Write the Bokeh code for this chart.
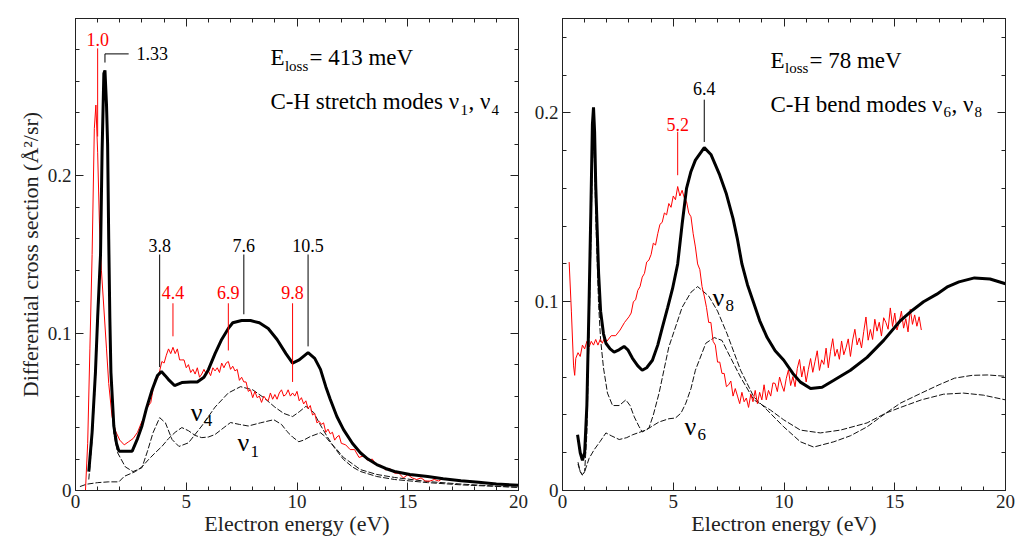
import numpy as np
from bokeh.plotting import figure
from bokeh.layouts import row
from bokeh.models import Range1d, FixedTicker, LinearAxis, Label, CustomJSTickFormatter
from bokeh.embed import file_html
from bokeh.resources import INLINE

SERIF = "'Liberation Serif', 'Times New Roman', 'DejaVu Serif', serif"
RED = "#ff0000"
INK = "#222222"

# ---------------- Left panel: E_loss = 413 meV (C-H stretch) ----------------
left_exp_x = [0.45, 0.55, 0.65, 0.75, 0.85, 0.92, 1.0, 1.08, 1.17, 1.28, 1.4, 1.5, 1.65, 1.8,
              2.0, 2.2, 2.4, 2.6, 2.8,
              3.0, 3.1, 3.2, 3.3, 3.4, 3.5, 3.6, 3.7, 3.8, 3.9, 4.0, 4.1, 4.2, 4.3, 4.4, 4.5,
              4.6, 4.7, 4.8, 4.9, 5.0, 5.1, 5.2, 5.3, 5.4, 5.5, 5.6, 5.7, 5.8, 5.9, 6.0, 6.1,
              6.2, 6.3, 6.4, 6.5, 6.6, 6.7, 6.8, 6.9, 7.0, 7.1, 7.2, 7.3, 7.4, 7.5, 7.6, 7.7,
              7.8, 7.9, 8.0, 8.1, 8.2, 8.3, 8.4, 8.5, 8.6, 8.7, 8.8, 8.9, 9.0, 9.1, 9.2, 9.3,
              9.4, 9.5, 9.6, 9.7, 9.8, 9.9, 10.0, 10.1, 10.2, 10.3, 10.4, 10.5, 10.6, 10.7,
              10.8, 10.9, 11.0, 11.1, 11.2, 11.3, 11.4, 11.5, 11.6, 11.7, 11.8, 11.9, 12.0,
              12.2, 12.4, 12.6, 12.8, 13.0, 13.2, 13.4, 13.6, 13.8, 14.0, 14.2, 14.4, 14.6,
              14.8, 15.0, 15.2, 15.4, 15.6, 15.8, 16.0, 16.2, 16.4, 16.5]
left_exp_y = [0.0, 0.03, 0.09, 0.15, 0.23, 0.245, 0.215, 0.17, 0.14, 0.116, 0.09, 0.068, 0.047,
              0.038, 0.032, 0.029, 0.031, 0.033, 0.037,
              0.044, 0.046, 0.052, 0.054, 0.056, 0.064, 0.071, 0.071, 0.076, 0.082, 0.081,
              0.086, 0.090, 0.087, 0.091, 0.087, 0.090, 0.083, 0.083, 0.083, 0.078, 0.080,
              0.075, 0.077, 0.074, 0.078, 0.072, 0.074, 0.077, 0.074, 0.076, 0.073, 0.078,
              0.076, 0.078, 0.075, 0.081, 0.078, 0.081, 0.082, 0.077, 0.079, 0.076, 0.077,
              0.070, 0.072, 0.069, 0.069, 0.063, 0.064, 0.059, 0.063, 0.059, 0.060, 0.056,
              0.060, 0.058, 0.057, 0.062, 0.058, 0.061, 0.058, 0.062, 0.064, 0.060, 0.061,
              0.064, 0.060, 0.062, 0.060, 0.063, 0.057, 0.059, 0.055, 0.057, 0.052, 0.054,
              0.048, 0.049, 0.043, 0.044, 0.042, 0.043, 0.037, 0.039, 0.036, 0.037, 0.032,
              0.034, 0.035, 0.030,
              0.029, 0.026, 0.026, 0.021, 0.022, 0.019, 0.020, 0.016, 0.016, 0.013, 0.014,
              0.011, 0.011, 0.008, 0.010, 0.008, 0.007, 0.008, 0.006, 0.006, 0.007, 0.006,
              0.007]

left_tot_x = [0.6, 0.75, 0.9, 1.0, 1.13, 1.2, 1.28, 1.33, 1.4, 1.45, 1.5, 1.55, 1.6, 1.73, 1.85,
              1.96, 2.2, 2.56, 2.8, 3.0, 3.2, 3.46, 3.7, 3.88, 4.05, 4.2, 4.47, 4.8, 5.2, 5.5,
              5.8, 6.0, 6.3, 6.6, 6.9, 7.1, 7.5, 7.9, 8.3, 8.7, 9.1, 9.5, 9.8, 10.1, 10.5, 10.8,
              11.06, 11.3, 11.5, 11.8, 12.1, 12.5, 12.86, 13.2, 13.6, 14.0, 14.4, 15.1, 15.9,
              16.6, 17.4, 18.2, 19.0, 20.0]
left_tot_y = [0.012, 0.037, 0.075, 0.11, 0.15, 0.215, 0.265, 0.267, 0.245, 0.22, 0.16, 0.11,
              0.075, 0.041, 0.03, 0.025, 0.025, 0.025, 0.033, 0.041, 0.052, 0.064, 0.073, 0.0756,
              0.073, 0.0705, 0.0667, 0.0686, 0.069, 0.069, 0.072, 0.0768, 0.087, 0.096, 0.103,
              0.1066, 0.108, 0.108, 0.1066, 0.103, 0.096, 0.087, 0.081, 0.083, 0.0876, 0.084,
              0.077, 0.066, 0.058, 0.047, 0.0387, 0.03, 0.024, 0.02, 0.0165, 0.014, 0.0121,
              0.0102, 0.0089, 0.0075, 0.0062, 0.0052, 0.0042, 0.0033]

left_v4_x = [0.6, 0.75, 0.9, 1.0, 1.13, 1.2, 1.28, 1.33, 1.4, 1.45, 1.5, 1.55, 1.6, 1.73, 1.9,
             2.25, 2.6, 3.0, 3.25, 3.5, 3.8, 4.06, 4.36, 4.67, 5.1, 5.7, 6.3, 6.9, 7.45, 8.0,
             8.5, 9.0, 9.4, 9.8, 10.1, 10.4, 10.76, 11.0, 11.36, 11.7, 12.1, 12.5, 12.86, 13.6,
             14.4, 15.9, 17.5, 20.0]
left_v4_y = [0.007, 0.032, 0.07, 0.105, 0.145, 0.21, 0.26, 0.262, 0.24, 0.215, 0.155, 0.105,
             0.07, 0.036, 0.024, 0.015, 0.012, 0.0145, 0.025, 0.0367, 0.0463, 0.043, 0.0324,
             0.028, 0.0303, 0.041, 0.053, 0.062, 0.066, 0.064, 0.059, 0.053, 0.049, 0.047, 0.05,
             0.0535, 0.0495, 0.043, 0.0343, 0.027, 0.0197, 0.015, 0.0121, 0.0089, 0.007, 0.005,
             0.0035, 0.002]

left_v1_x = [0.2, 0.5, 1.0, 1.5, 1.96, 2.2, 2.7, 3.0, 3.3, 3.6, 3.9, 4.2, 4.5, 4.8, 5.1, 5.4,
             5.7, 6.0, 6.3, 6.7, 7.0, 7.4, 7.8, 8.35, 8.95, 9.3, 9.55, 9.8, 10.08, 10.3, 10.6,
             11.06, 11.3, 11.5, 11.8, 12.1, 12.5, 12.86, 13.6, 14.4, 15.9, 17.5, 20.0]
left_v1_y = [0.0025, 0.004, 0.005, 0.0055, 0.0055, 0.009, 0.012, 0.015, 0.0197, 0.024, 0.028,
             0.033, 0.037, 0.04, 0.038, 0.035, 0.0336, 0.034, 0.0356, 0.04, 0.0432, 0.042,
             0.041, 0.043, 0.045, 0.042, 0.0375, 0.034, 0.031, 0.032, 0.0343, 0.0367, 0.034,
             0.0305, 0.026, 0.021, 0.017, 0.0133, 0.0102, 0.0083, 0.0057, 0.004, 0.002]

left_black_peaks = [3.8, 7.6, 10.5]
left_red_peaks = [4.4, 6.9, 9.8]
left_red_first_peak = 1.0
left_black_first_peak = 1.33

# ---------------- Right panel: E_loss = 78 meV (C-H bend) ----------------
right_exp_x = [0.3, 0.4, 0.5, 0.55, 0.6, 0.7, 0.8, 0.9, 1.0, 1.1, 1.2, 1.3, 1.4, 1.5, 1.6, 1.7,
               1.8, 1.9, 2.0, 2.2, 2.4, 2.6, 2.8,
               3.0, 3.1, 3.2, 3.3, 3.4, 3.5, 3.6, 3.7, 3.8, 3.9, 4.0, 4.1, 4.2, 4.3, 4.4, 4.5,
               4.6, 4.7, 4.8, 4.9, 5.0, 5.1, 5.2, 5.3, 5.4, 5.5, 5.6, 5.7, 5.8, 5.9, 6.0, 6.1,
               6.2, 6.3, 6.4,
               6.5, 6.6, 6.7, 6.8, 6.9, 7.0, 7.1, 7.2, 7.3, 7.4, 7.5, 7.6, 7.7, 7.8, 7.9, 8.0,
               8.1, 8.2, 8.3, 8.4, 8.5, 8.6, 8.7, 8.8, 8.9, 9.0, 9.1, 9.2, 9.3, 9.4, 9.5,
               9.6, 9.7, 9.8, 9.9, 10.0, 10.1, 10.2, 10.3, 10.4, 10.5, 10.6, 10.7, 10.8, 10.9,
               11.0, 11.1, 11.2, 11.3, 11.4, 11.5, 11.6, 11.7, 11.8, 11.9, 12.0, 12.1, 12.2,
               12.3, 12.4, 12.5, 12.6, 12.7, 12.8, 12.9, 13.0, 13.1, 13.2, 13.3, 13.4, 13.5,
               13.6, 13.7, 13.8, 13.9, 14.0, 14.1, 14.2, 14.3, 14.4, 14.5, 14.6, 14.7, 14.8,
               14.9, 15.0, 15.1, 15.2, 15.3, 15.4, 15.5, 15.6, 15.7, 15.8, 15.9, 16.0, 16.1,
               16.2]
right_exp_y = [0.121, 0.095, 0.066, 0.061, 0.070, 0.073, 0.071, 0.077, 0.075, 0.079, 0.076,
               0.079, 0.077, 0.080, 0.077, 0.080, 0.078, 0.081, 0.079, 0.082, 0.082, 0.085,
               0.089,
               0.092, 0.094, 0.100, 0.101, 0.106, 0.108, 0.113, 0.115, 0.121, 0.122, 0.125,
               0.131, 0.130, 0.136, 0.141, 0.142, 0.147, 0.146, 0.152, 0.150, 0.156, 0.154,
               0.161, 0.156, 0.159, 0.155, 0.153, 0.147, 0.145, 0.136, 0.129, 0.120, 0.117,
               0.108, 0.103,
               0.097, 0.089, 0.089, 0.079, 0.077, 0.068, 0.068, 0.062, 0.062, 0.055, 0.056,
               0.058, 0.050, 0.054, 0.050, 0.046, 0.052, 0.047, 0.049, 0.044, 0.051, 0.047,
               0.053, 0.046, 0.052, 0.048, 0.056, 0.048, 0.053, 0.050, 0.057,
               0.0567, 0.0524, 0.0601, 0.0558, 0.0525, 0.0592, 0.0639, 0.0556, 0.0603, 0.0550,
               0.0647, 0.0694, 0.0601, 0.0658, 0.0575, 0.0642, 0.0699, 0.0626, 0.0683, 0.0740,
               0.0636, 0.0692, 0.0668, 0.0754, 0.0650, 0.0737, 0.0804, 0.0711, 0.0748, 0.0695,
               0.0792, 0.0719, 0.0756, 0.0803, 0.0710, 0.0797, 0.0854, 0.0771, 0.0808, 0.0755,
               0.0842, 0.0919, 0.0796, 0.0853, 0.0800, 0.0907, 0.0844, 0.0891, 0.0818, 0.0915,
               0.0890, 0.0854, 0.0967, 0.0869, 0.0940, 0.0850, 0.0890, 0.0950, 0.0860, 0.0910,
               0.0840, 0.0960, 0.0880, 0.0930, 0.0870, 0.0920, 0.0850]

right_tot_x = [0.68, 0.8, 0.9, 1.0, 1.1, 1.2, 1.28, 1.35, 1.4, 1.45, 1.5, 1.63, 1.72, 1.85, 1.96,
               2.15, 2.33, 2.55, 2.78, 2.95, 3.16, 3.4, 3.6, 3.8, 4.06, 4.3, 4.5, 4.75, 4.97,
               5.2, 5.4, 5.6, 5.8, 6.0, 6.4, 6.7, 7.1, 7.4, 7.7, 7.9, 8.1, 8.35, 8.64, 8.9,
               9.24, 9.6, 9.99, 10.4, 10.74, 11.2, 11.72, 12.25, 13.0, 13.75, 14.5, 15.26, 15.8,
               16.3, 16.9, 17.4, 17.9, 18.6, 19.3, 20.0]
right_tot_y = [0.0295, 0.02, 0.016, 0.02, 0.045, 0.1, 0.148, 0.194, 0.203, 0.19, 0.162, 0.115,
               0.095, 0.083, 0.078, 0.075, 0.0733, 0.0745, 0.0763, 0.0745, 0.07, 0.066, 0.0637,
               0.065, 0.069, 0.077, 0.086, 0.097, 0.107, 0.12, 0.141, 0.16, 0.169, 0.175, 0.1816,
               0.178, 0.167, 0.157, 0.144, 0.133, 0.12, 0.109, 0.099, 0.09, 0.081, 0.074, 0.069,
               0.062, 0.0574, 0.054, 0.0547, 0.0584, 0.0637, 0.0705, 0.0795, 0.09, 0.0955, 0.1,
               0.104, 0.108, 0.1105, 0.1126, 0.112, 0.1095]

right_v8_x = [0.7, 0.8, 0.9, 1.0, 1.1, 1.2, 1.28, 1.35, 1.4, 1.45, 1.5, 1.63, 1.72, 1.85, 2.03,
              2.26, 2.56, 2.86, 3.05, 3.24, 3.45, 3.6, 3.9, 4.1, 4.36, 4.8, 5.4, 5.8, 6.1, 6.6,
              7.0, 7.43, 8.04, 8.64, 9.24, 9.99, 10.74, 11.34, 12.25, 13.0, 13.75, 14.6, 15.26,
              16.2, 17.0, 17.7, 18.5, 19.2, 20.0]
right_v8_y = [0.015, 0.01, 0.008, 0.01, 0.03, 0.085, 0.13, 0.177, 0.185, 0.172, 0.145, 0.098,
              0.08, 0.065, 0.0516, 0.045, 0.045, 0.048, 0.045, 0.039, 0.034, 0.031, 0.033, 0.04,
              0.0516, 0.076, 0.097, 0.105, 0.108, 0.103, 0.095, 0.083, 0.0637, 0.0495, 0.0426,
              0.0337, 0.0258, 0.023, 0.0258, 0.029, 0.0337, 0.041, 0.0463, 0.0516, 0.056, 0.0595,
              0.061, 0.0612, 0.0605]

right_v6_x = [0.7, 0.8, 0.9, 1.0, 1.2, 1.43, 1.7, 1.96, 2.2, 2.56, 2.9, 3.16, 3.76, 4.36, 4.8,
              5.1, 5.35, 5.57, 5.8, 6.0, 6.47, 6.85, 7.2, 7.43, 8.04, 8.64, 9.39, 9.99, 10.74,
              11.64, 12.55, 13.75, 14.6, 15.26, 16.2, 17.2, 18.1, 19.0, 20.0]
right_v6_y = [0.014, 0.01, 0.0084, 0.01, 0.017, 0.0216, 0.026, 0.0305, 0.029, 0.027, 0.028,
              0.0295, 0.032, 0.0363, 0.038, 0.0384, 0.041, 0.0463, 0.054, 0.0637, 0.078, 0.081,
              0.0795, 0.074, 0.06, 0.048, 0.0426, 0.0374, 0.032, 0.0305, 0.032, 0.0358, 0.041,
              0.044, 0.048, 0.051, 0.0516, 0.0505, 0.048]

right_black_peaks = [6.4]
right_red_peaks = [5.2]

x_major = [0, 5, 10, 15, 20]
x_minor = list(range(0, 21))


def make_panel(width, mb_left, mb_right, ymax):
    p = figure(width=width, height=538, x_range=Range1d(0, 20), y_range=Range1d(0, ymax),
               output_backend="svg", toolbar_location=None,
               min_border_left=mb_left, min_border_right=mb_right,
               min_border_top=18, min_border_bottom=47)
    p.xgrid.visible = False
    p.ygrid.visible = False
    p.outline_line_color = INK
    p.outline_line_width = 1
    p.background_fill_color = "white"
    p.border_fill_color = "white"
    y_major = [0, 0.1, 0.2]
    y_minor = [round(0.02 * i, 2) for i in range(int(ymax / 0.02) + 1)]
    fmt = CustomJSTickFormatter(code="return String(Math.round(tick*10)/10)")
    p.add_layout(LinearAxis(), "above")
    p.add_layout(LinearAxis(), "right")
    for ax in p.xaxis:
        ax.ticker = FixedTicker(ticks=x_major, minor_ticks=x_minor)
    for ax in p.yaxis:
        ax.ticker = FixedTicker(ticks=y_major, minor_ticks=y_minor)
        ax.formatter = fmt
    for ax in p.axis:
        ax.axis_line_color = INK
        ax.major_tick_line_color = INK
        ax.minor_tick_line_color = INK
        ax.major_tick_in = 8
        ax.major_tick_out = 0
        ax.minor_tick_in = 4
        ax.minor_tick_out = 0
        ax.major_label_text_font = SERIF
        ax.major_label_text_font_size = "19px"
        ax.major_label_text_color = INK
        ax.major_label_standoff = 4
        ax.axis_label_text_font = SERIF
        ax.axis_label_text_font_size = "22px"
        ax.axis_label_text_font_style = "normal"
        ax.axis_label_text_color = INK
    for ax in p.above + p.right:
        ax.major_label_text_color = None
        ax.major_label_text_font_size = "0px"
    p.below[0].axis_label = "Electron energy (eV)"
    p.below[0].axis_label_standoff = 0
    return p


def draw_curves(p, exp_x, exp_y, tot_x, tot_y, a_x, a_y, b_x, b_y):
    p.line(a_x, a_y, line_color="#111111", line_width=1, line_dash="6 2")
    p.line(b_x, b_y, line_color="#111111", line_width=1, line_dash="6 2")
    p.line(exp_x, exp_y, line_color=RED, line_width=1)
    p.line(tot_x, tot_y, line_color="black", line_width=3)


def peak_marks(p, peaks, cx, cy, color, y_text, y_top, gap):
    peaks = np.asarray(peaks, dtype=float)
    bottoms = np.interp(peaks, cx, cy) + gap
    p.segment(x0=peaks, y0=bottoms, x1=peaks, y1=[y_top] * len(peaks),
              line_color=color, line_width=1)
    for pk in peaks:
        p.add_layout(Label(x=pk, y=y_text, text=f"{pk:.1f}", text_align="center",
                           text_baseline="middle", text_font=SERIF, text_font_size="18px",
                           text_color=color))


def multi_label(p, x, y, parts):
    # parts: (text, x_offset_px, y_offset_px, font_size)
    for t, dx, dy, fs in parts:
        p.add_layout(Label(x=x, y=y, x_offset=dx, y_offset=dy, text=t,
                           text_align="left", text_baseline="alphabetic",
                           text_font=SERIF, text_font_size=fs, text_color="black"))


# ---------------- Left figure ----------------
pl = make_panel(528, 75, 10, 0.3)
pl.left[0].axis_label = "Differential cross section (Å²/sr)"
pl.left[0].axis_label_standoff = 2
draw_curves(pl, left_exp_x, left_exp_y, left_tot_x, left_tot_y,
            left_v4_x, left_v4_y, left_v1_x, left_v1_y)

peak_marks(pl, left_black_peaks, left_tot_x, left_tot_y, "black", 0.1556, 0.150, 0.004)
peak_marks(pl, left_red_peaks, left_exp_x, left_exp_y, RED, 0.126, 0.119, 0.007)
pl.segment(x0=[left_red_first_peak], y0=[np.interp(left_red_first_peak, left_exp_x, left_exp_y) + 0.01],
           x1=[left_red_first_peak], y1=[0.281], line_color=RED, line_width=1)
pl.add_layout(Label(x=left_red_first_peak, y=0.2865, text=f"{left_red_first_peak:.1f}",
                    text_align="center", text_baseline="middle", text_font=SERIF,
                    text_font_size="18px", text_color=RED))
top133 = np.interp(left_black_first_peak, left_tot_x, left_tot_y) + 0.005
pl.segment(x0=[left_black_first_peak, left_black_first_peak],
           y0=[top133, 0.2775], x1=[left_black_first_peak, 2.4], y1=[0.2775, 0.2775],
           line_color="black", line_width=1)
pl.add_layout(Label(x=2.75, y=0.2775, text=f"{left_black_first_peak:.2f}", text_align="left",
                    text_baseline="middle", text_font=SERIF, text_font_size="18px",
                    text_color="black"))

multi_label(pl, 8.8, 0.275, [("E", 0, 0, "23px"), ("loss", 14.5, -8, "15px"),
                             ("= 413 meV", 39, 0, "23px")])
multi_label(pl, 8.8, 0.247, [("C-H stretch modes ν", 0, 0, "23px"), ("1", 190, -8, "15px"),
                             (", ν", 198, 0, "23px"), ("4", 221, -8, "15px")])
multi_label(pl, 5.2, 0.0495, [("ν", 0, 0, "26px"), ("4", 13, -8, "17px")])
multi_label(pl, 7.31, 0.0305, [("ν", 0, 0, "26px"), ("1", 13, -9, "17px")])

# ---------------- Right figure ----------------
pr = make_panel(489, 34, 12, 0.25)
draw_curves(pr, right_exp_x, right_exp_y, right_tot_x, right_tot_y,
            right_v8_x, right_v8_y, right_v6_x, right_v6_y)
peak_marks(pr, right_black_peaks, right_tot_x, right_tot_y, "black", 0.213, 0.207, 0.003)
peak_marks(pr, right_red_peaks, right_exp_x, right_exp_y, RED, 0.194, 0.190, 0.006)

multi_label(pr, 9.39, 0.2279, [("E", 0, 0, "23px"), ("loss", 14.5, -8, "15px"),
                               ("= 78 meV", 39, 0, "23px")])
multi_label(pr, 9.39, 0.2047, [("C-H bend modes ν", 0, 0, "23px"), ("6", 173, -8, "15px"),
                               (", ν", 181, 0, "23px"), ("8", 204, -8, "15px")])
multi_label(pr, 6.77, 0.1021, [("ν", 0, 0, "26px"), ("8", 13, -8, "17px")])
multi_label(pr, 5.51, 0.0337, [("ν", 0, 0, "26px"), ("6", 13, -8, "17px")])

layout = row(pl, pr)
open("out.html", "w").write(file_html(layout, INLINE))
